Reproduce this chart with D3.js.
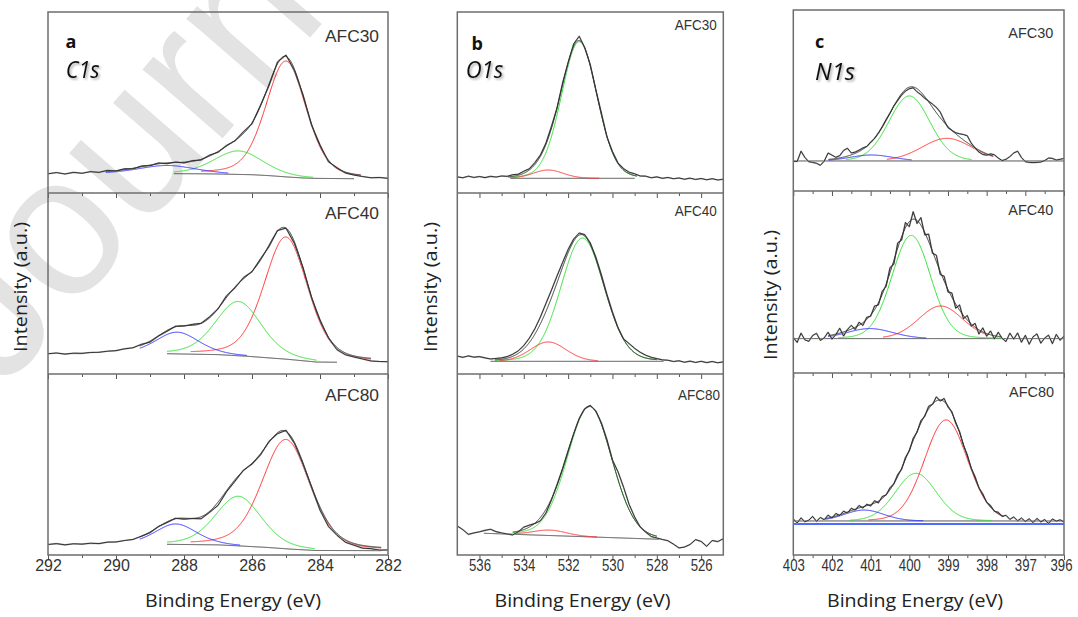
<!DOCTYPE html>
<html><head><meta charset="utf-8">
<script src="https://cdnjs.cloudflare.com/ajax/libs/d3/7.8.5/d3.min.js"></script>
<style>body{margin:0;background:#fff;}svg{display:block;}</style>
</head><body>
<svg id="chart" width="1078" height="617"></svg>
<script>
// ---------------- DATA ----------------
const sampleNames = ["AFC30", "AFC40", "AFC80"];
const elementNames = ["C1s", "O1s", "N1s"];
const panelLetters = ["a", "b", "c"];

// tick values
const c1sMajor = [292, 290, 288, 286, 284, 282];
const c1sMinor = [291, 289, 287, 285, 283];
const o1sMajor = [536, 534, 532, 530, 528, 526];
const o1sMinor = [535, 533, 531, 529, 527];
const n1sMajor = [403, 402, 401, 400, 399, 398, 397, 396];
const n1sMinor = [402.5, 401.5, 400.5, 399.5, 398.5, 397.5, 396.5];

// raw spectra grids (binding energy start, step)
const c1sStart = 292, c1sStep = 0.25;
const o1sStart = 537, o1sStep = 0.25;
const n1sStart = 403, n1sStep = 0.1;

// raw spectra (intensity, % of sub-panel height)
const c1sRaw30 = [10.6,11.3,10.5,11.4,10.9,11.8,11.4,12.5,12.1,13.4,13.3,14.9,15.1,16.6,16.2,17.1,16.6,17.9,18.2,20.9,22.5,26.3,28.8,33.9,38.2,48.5,59.3,72.4,76.2,67.5,54.3,37.6,26.6,17.2,14.0,11.0,9.9,9.1,8.4,8.6,8.1];
const c1sRaw40 = [11.2,11.6,11.0,11.5,11.4,11.9,12.0,12.6,12.9,13.9,14.5,16.4,17.6,21.0,23.6,26.4,26.5,27.4,28.0,31.6,36.0,43.2,47.6,53.3,56.5,63.6,70.4,79.3,80.6,72.0,58.8,42.2,29.9,19.8,13.4,10.6,9.4,8.3,7.2,6.9,6.8];
const c1sRaw80 = [5.8,6.3,5.6,6.2,6.0,6.5,6.3,7.1,7.2,8.0,8.6,10.4,12.3,15.8,17.9,20.3,19.8,20.2,20.0,23.5,27.4,34.9,40.8,46.9,50.2,55.3,62.8,67.0,68.9,61.6,50.3,37.5,24.8,15.7,10.9,7.0,5.4,3.8,3.5,2.7,2.8];

const o1sRaw30 = [8.9,8.4,9.3,8.6,9.1,8.5,9.2,8.8,9.4,9.2,10.1,10.4,12.0,13.4,16.8,21.0,27.6,36.9,47.0,60.8,72.0,82.4,86.6,80.2,70.8,57.0,44.2,31.0,22.9,16.6,13.5,11.5,10.6,9.4,9.3,8.4,8.9,8.1,8.6,7.9,8.3,7.6,8.2,7.5,8.0,7.3,7.9,7.2,7.6];
const o1sRaw40 = [9.9,9.2,10.0,9.3,9.6,8.9,8.3,8.6,8.9,9.6,10.9,12.8,15.7,19.8,25.0,31.5,39.0,46.4,54.2,61.6,68.8,74.6,77.9,77.0,72.4,64.6,54.8,44.0,34.2,25.6,19.4,16.8,14.2,12.0,10.4,9.2,8.5,7.8,7.6,6.9,7.3,6.5,7.1,6.4,7.0,6.3,6.9,6.2,6.7];
const o1sRaw80 = [16.0,14.0,11.4,12.2,12.8,13.6,14.2,12.9,12.2,11.6,11.1,12.8,15.4,16.5,17.4,18.9,23.2,30.5,38.9,47.8,57.6,67.0,75.4,80.8,82.6,79.6,73.0,63.8,52.5,46.0,37.5,28.0,21.0,15.5,12.6,10.2,9.4,8.6,7.9,6.0,3.9,4.4,5.8,8.5,7.5,4.8,8.0,7.4,9.0];

const n1sRaw30 = [16.4,16.3,22.0,18.5,16.2,15.8,15.3,14.2,16.5,21.0,19.8,18.6,19.5,22.4,23.6,21.0,21.5,22.6,23.8,24.6,27.0,29.0,32.0,35.5,39.5,43.0,47.0,50.0,53.0,55.2,56.5,57.0,54.8,53.2,51.2,49.6,48.0,46.2,43.6,39.0,35.0,33.5,32.2,31.6,31.2,30.5,26.5,23.8,21.5,20.2,19.8,20.5,20.0,18.2,16.8,17.5,19.0,21.0,22.0,18.5,16.2,15.8,15.7,15.8,16.0,16.8,18.2,18.0,17.1,17.5,18.0];
const n1sRaw40 = [19.5,16.8,21.9,18.2,17.4,20.6,21.8,17.9,19.3,22.4,18.6,21.1,24.6,20.3,23.9,26.2,23.8,27.9,26.1,30.6,31.2,36.8,37.4,44.9,47.6,57.9,59.8,71.5,73.0,82.7,80.4,88.6,82.1,85.4,75.9,76.3,65.8,64.7,54.1,53.2,44.5,44.0,35.6,37.4,29.8,31.6,25.7,27.3,21.4,24.8,20.2,23.1,18.7,22.4,19.0,17.3,21.9,18.6,22.0,16.9,20.7,15.8,19.9,21.5,16.4,19.2,20.8,16.1,21.2,18.0,20.3];
const n1sRaw80 = [19.8,17.6,20.4,18.3,19.1,21.2,18.5,20.6,19.4,21.9,20.3,22.8,21.7,24.1,23.0,25.7,24.6,27.2,25.8,27.9,26.9,29.8,28.6,32.1,33.0,36.9,39.1,44.2,47.0,53.6,57.2,64.1,67.5,73.8,76.2,81.7,82.8,86.9,84.6,86.0,81.3,78.7,72.4,67.8,60.1,55.0,47.6,43.1,36.8,33.6,28.9,27.2,24.0,23.5,21.2,21.8,19.6,20.9,18.8,20.3,18.4,19.9,17.8,20.1,18.2,19.5,17.3,19.8,18.6,19.3,18.1];

// fitted components per sample: C1s order [red, green, blue]
const c1sCenter = [[285.0, 286.4, 288.5], [285.0, 286.4, 288.2], [285.0, 286.4, 288.24]];
const c1sHeight = [[64, 13, 4.5], [67.5, 30, 12], [60.4, 27.4, 11.3]];
const c1sFwhm   = [[1.41, 1.7, 2.0], [1.53, 1.6, 1.5], [1.67, 1.6, 1.45]];
const c1sFrom   = [[287.5, 288.3, 290.3], [287.8, 288.5, 289.3], [287.8, 288.5, 289.3]];
const c1sTo     = [[282.8, 284.2, 286.7], [282.5, 284.1, 286.15], [282.2, 284.15, 286.35]];
const c1sBgEnergy = [[288.3, 287.5, 287, 286.5, 286, 285.5, 285, 284.5, 284.2, 283.0],
                     [288.5, 287, 286.15, 285, 284.1, 283.5],
                     [288.5, 287, 286.35, 285.57, 284.9, 284.15, 282.2]];
const c1sBgLevel  = [[10.7, 10.6, 10.5, 10.3, 10.1, 9.6, 8.9, 8.3, 8.1, 7.9],
                     [11.2, 10.7, 9.8, 8.2, 6.6, 6.5],
                     [5.9, 5.6, 5.0, 4.2, 3.3, 2.5, 2.4]];

// O1s order [green, red]
const o1sCenter = [[531.5, 532.9], [531.35, 532.9], [531.03, 532.83]];
const o1sHeight = [[75.5, 4.6], [68.1, 10.7], [72, 3.0]];
const o1sFwhm   = [[1.9, 1.6], [2.3, 1.9], [2.37, 1.8]];
const o1sFrom   = [[534.7, 534.6], [535.3, 535.1], [534.5, 534.4]];
const o1sTo     = [[528.9, 530.6], [528.0, 530.66], [528.0, 530.7]];
const o1sBgEnergy = [[534.6, 529.0], [535.5, 527.7], [535.8, 527.9]];
const o1sBgLevel  = [[8.1, 8.1], [7.0, 7.0], [12.0, 8.7]];

// N1s order [green, red, blue]
const n1sCenter = [[400.0, 399.03, 400.98], [399.95, 399.19, 401.02], [399.83, 399.05, 401.17]];
const n1sHeight = [[35.9, 12.5, 3.3], [56.7, 17.9, 5.5], [26.2, 55.5, 6.0]];
const n1sFwhm   = [[1.25, 1.53, 1.3], [1.18, 1.34, 1.4], [1.25, 1.32, 1.2]];
const n1sFrom   = [[401.64, 400.58, 402.09], [401.84, 400.68, 402.1], [401.53, 401.06, 402.18]];
const n1sTo     = [[398.39, 397.83, 399.94], [397.62, 397.96, 399.56], [397.87, 397.57, 399.64]];
const n1sBgEnergy = [[403, 396], [403, 396], [403, 396]];
const n1sBgLevel  = [[16.6, 16.6], [18.9, 18.9], [18.7, 18.7]];
const n1sFlatLine80 = 17.0;

const lorentzFraction = [0.3, 0.1, 0.1];

// ---------------- LAYOUT / STYLE ----------------
const RED = "#ff2b2b", GREEN = "#2ee02e", BLUE = "#2b2bff";
const layout = [
  {x0: 48, x1: 388, rows: [[12,193],[193,374],[374,555]], domain: [292, 282],
   major: c1sMajor, minor: c1sMinor, start: c1sStart, step: c1sStep,
   raw: [c1sRaw30, c1sRaw40, c1sRaw80], center: c1sCenter, height: c1sHeight, fwhm: c1sFwhm,
   from: c1sFrom, to: c1sTo, bgE: c1sBgEnergy, bgV: c1sBgLevel, colors: [RED, GREEN, BLUE],
   tickNarrow: false, sampleRight: [379, 379, 379], sampleBase: [41.7, 219, 400.7], sampleSize: 17, sampleLen: 54,
   letterPos: [65.5, 48.3], elemPos: [65.7, 78.3], elemLen: 34, xTitle: 233, yTitle: [27, 287]},
  {x0: 457.3, x1: 723.3, rows: [[12,193],[193,374],[374,555]], domain: [537, 525],
   major: o1sMajor, minor: o1sMinor, start: o1sStart, step: o1sStep,
   raw: [o1sRaw30, o1sRaw40, o1sRaw80], center: o1sCenter, height: o1sHeight, fwhm: o1sFwhm,
   from: o1sFrom, to: o1sTo, bgE: o1sBgEnergy, bgV: o1sBgLevel, colors: [GREEN, RED],
   tickNarrow: true, sampleRight: [716.7, 716.7, 720], sampleBase: [30, 216, 400], sampleSize: 15, sampleLen: 42,
   letterPos: [471.5, 49.5], elemPos: [465.7, 78.3], elemLen: 37.6, xTitle: 582.5, yTitle: [437, 287]},
  {x0: 793.3, x1: 1064, rows: [[10,191],[191,373],[373,555]], domain: [403, 396],
   major: n1sMajor, minor: n1sMinor, start: n1sStart, step: n1sStep,
   raw: [n1sRaw30, n1sRaw40, n1sRaw80], center: n1sCenter, height: n1sHeight, fwhm: n1sFwhm,
   from: n1sFrom, to: n1sTo, bgE: n1sBgEnergy, bgV: n1sBgLevel, colors: [GREEN, RED, BLUE],
   tickNarrow: true, sampleRight: [1053.3, 1053.3, 1054], sampleBase: [38.3, 215, 396.7], sampleSize: 15, sampleLen: 45,
   letterPos: [815, 48.3], elemPos: [815, 80], elemLen: 40, xTitle: 915, yTitle: [777, 295]}
];

// ---------------- DRAW ----------------
const svg = d3.select("#chart");
const defs = svg.append("defs");
defs.append("filter").attr("id", "shadow").attr("x", "-20%").attr("y", "-20%").attr("width", "140%").attr("height", "140%")
  .append("feDropShadow").attr("dx", 1.6).attr("dy", 1.6).attr("stdDeviation", 1.1)
  .attr("flood-color", "#000").attr("flood-opacity", 0.35);

// watermark
svg.append("text")
  .attr("transform", "translate(2,392) rotate(-49)")
  .attr("font-family", "'Liberation Sans', Arial, sans-serif")
  .attr("font-size", 200)
  .attr("fill", "#e3e3e3")
  .text("Journal");

const K = 4 * Math.LN2;
function pv(e, c, h, w, eta) {
  const t = (e - c) / w;
  return h * ((1 - eta) * Math.exp(-K * t * t) + eta / (1 + 4 * t * t));
}
const fine = (a, b) => d3.range(a, b - 1e-9, -0.01);

layout.forEach((p, pi) => {
  const eta = lorentzFraction[pi];
  const x = d3.scaleLinear().domain(p.domain).range([p.x0, p.x1]);
  p.rows.forEach((row, i) => {
    const [top, bottom] = row;
    const y = d3.scaleLinear().domain([0, 100]).range([bottom, top]);
    const cid = `clip-${pi}-${i}`;
    defs.append("clipPath").attr("id", cid).append("rect")
      .attr("x", p.x0).attr("y", top).attr("width", p.x1 - p.x0).attr("height", bottom - top);
    const g = svg.append("g").attr("clip-path", `url(#${cid})`);
    const bg = d3.scaleLinear().domain(p.bgE[i]).range(p.bgV[i]).clamp(true);
    const line = d3.line().x(d => x(d[0])).y(d => y(d[1]));
    const cs = p.center[i], hs = p.height[i], ws = p.fwhm[i];

    if (pi === 2 && i === 2) {
      g.append("path").attr("d", line([[p.domain[0], n1sFlatLine80], [p.domain[1], n1sFlatLine80]]))
        .attr("fill", "none").attr("stroke", "#4f6bff").attr("stroke-width", 2);
    }
    // background line
    const be = p.bgE[i];
    g.append("path").attr("d", line(fine(be[0], be[be.length - 1]).map(e => [e, bg(e)])))
      .attr("fill", "none").attr("stroke", "#3a3a3a").attr("stroke-width", 1);
    // components
    cs.forEach((c, k) => {
      const pts = fine(p.from[i][k], p.to[i][k]).map(e => [e, bg(e) + pv(e, c, hs[k], ws[k], eta)]);
      g.append("path").attr("d", line(pts)).attr("fill", "none")
        .attr("stroke", p.colors[k]).attr("stroke-width", 1);
    });
    // raw data
    const raw = p.raw[i].map((v, j) => [p.start - j * p.step, v]);
    g.append("path").attr("d", line(raw)).attr("fill", "none")
      .attr("stroke", "#b0b0b0").attr("stroke-width", 1.6).attr("stroke-linejoin", "round");
    g.append("path").attr("d", line(raw)).attr("fill", "none")
      .attr("stroke", "#111").attr("stroke-width", 0.8);
    // fit envelope
    const eHi = d3.max(p.from[i]), eLo = d3.min(p.to[i]);
    const env = fine(eHi, eLo).map(e => [e, bg(e) + d3.sum(cs, (c, k) => pv(e, c, hs[k], ws[k], eta))]);
    g.append("path").attr("d", line(env)).attr("fill", "none")
      .attr("stroke", "#333").attr("stroke-width", 1);

    // ticks at bottom of each sub-panel
    const isLast = i === p.rows.length - 1;
    const axMaj = d3.axisBottom(x).tickValues(p.major).tickSize(5).tickSizeOuter(0).tickPadding(0)
      .tickFormat(isLast ? d3.format("d") : () => "");
    const gm = svg.append("g").attr("transform", `translate(0,${bottom})`).call(axMaj);
    const axMin = d3.axisBottom(x).tickValues(p.minor).tickSize(3).tickSizeOuter(0).tickFormat(() => "");
    const gn = svg.append("g").attr("transform", `translate(0,${bottom})`).call(axMin);
    [gm, gn].forEach(a => { a.select(".domain").remove(); a.selectAll("line").attr("stroke", "#555").attr("stroke-width", 1); });
    gm.selectAll("text").attr("fill", "#333").attr("font-size", 16)
      .attr("font-family", "'Liberation Sans', Arial, sans-serif");
    if (p.tickNarrow) gm.selectAll("text").attr("textLength", 22).attr("lengthAdjust", "spacingAndGlyphs");
    gm.selectAll("text").filter(d => d === p.domain[1] && pi === 2).attr("dx", -3);

    // sample label
    svg.append("text").attr("x", p.sampleRight[i]).attr("y", p.sampleBase[i])
      .attr("text-anchor", "end").attr("font-family", "'Liberation Sans', Arial, sans-serif")
      .attr("font-size", p.sampleSize).attr("fill", "#333")
      .attr("textLength", p.sampleLen).attr("lengthAdjust", "spacingAndGlyphs")
      .text(sampleNames[i]);
  });

  // frame + dividers
  const top = p.rows[0][0], bot = p.rows[2][1];
  svg.append("rect").attr("x", p.x0).attr("y", top).attr("width", p.x1 - p.x0).attr("height", bot - top)
    .attr("fill", "none").attr("stroke", "#6e6e6e").attr("stroke-width", 1.5);
  p.rows.slice(0, 2).forEach(r => {
    svg.append("line").attr("x1", p.x0).attr("x2", p.x1).attr("y1", r[1]).attr("y2", r[1])
      .attr("stroke", "#6e6e6e").attr("stroke-width", 1.5);
  });

  // panel letter and element
  svg.append("text").attr("x", p.letterPos[0]).attr("y", p.letterPos[1])
    .attr("font-family", "'Open Sans', sans-serif").attr("font-weight", "bold").attr("font-size", 18)
    .attr("fill", "#111").text(panelLetters[pi]);
  svg.append("text").attr("x", p.elemPos[0]).attr("y", p.elemPos[1])
    .attr("font-family", "'Open Sans', sans-serif").attr("font-style", "italic").attr("font-size", 23)
    .attr("fill", "#111").attr("filter", "url(#shadow)")
    .attr("textLength", p.elemLen).attr("lengthAdjust", "spacingAndGlyphs")
    .text(elementNames[pi]);

  // axis titles
  svg.append("text").attr("x", p.xTitle).attr("y", 607).attr("text-anchor", "middle")
    .attr("font-family", "'Open Sans', sans-serif").attr("font-size", 18).attr("fill", "#222")
    .attr("textLength", 176).attr("lengthAdjust", "spacingAndGlyphs")
    .text("Binding Energy (eV)");
  svg.append("text").attr("transform", `translate(${p.yTitle[0]},${p.yTitle[1]}) rotate(-90)`)
    .attr("text-anchor", "middle")
    .attr("font-family", "'Open Sans', sans-serif").attr("font-size", 19).attr("fill", "#222")
    .attr("textLength", 130).attr("lengthAdjust", "spacingAndGlyphs")
    .text("Intensity (a.u.)");
});
</script>
</body></html>
